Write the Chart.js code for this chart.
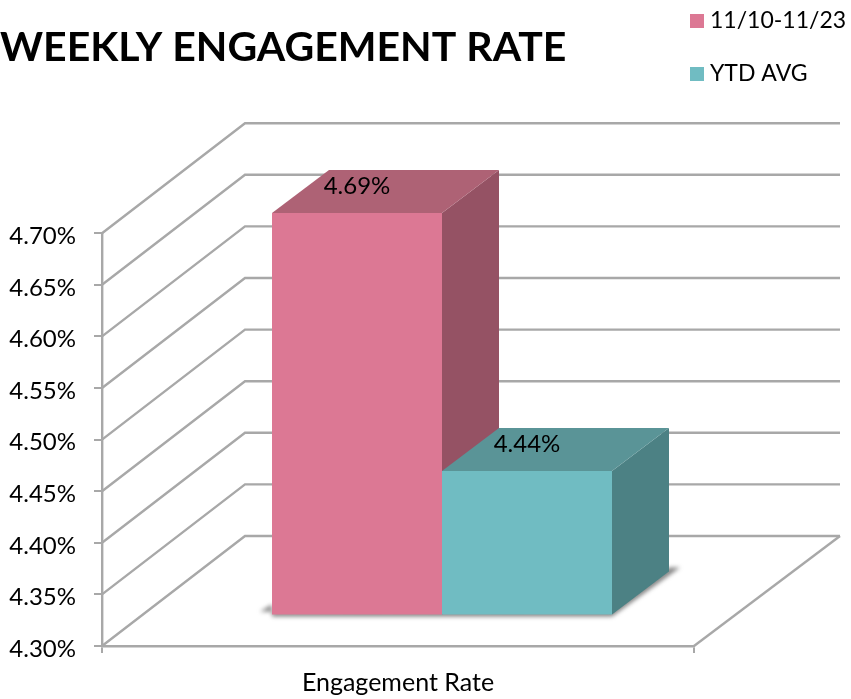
<!DOCTYPE html>
<html>
<head>
<meta charset="utf-8">
<style>html,body{margin:0;padding:0;background:#fff}canvas{display:block}</style>
<script src="https://cdn.jsdelivr.net/npm/chart.js@4"></script>
</head>
<body>
<canvas id="c" width="851" height="699"></canvas>
<script>
const categories = ["Engagement Rate"];
const periodLabel = "11/10-11/23";
const periodValues = [4.69];
const ytdLabel = "YTD AVG";
const ytdValues = [4.44];
const axisMin = 4.30;
const axisMax = 4.70;
const axisStep = 0.05;
const chartTitle = "WEEKLY ENGAGEMENT RATE";

const FONT = "Lato, Carlito, sans-serif";
const GRID = "#a8a8a8";
const FACES = [
  {front:"#dc7894", top:"#ae6275", side:"#955264"},
  {front:"#70bcc2", top:"#5a9497", side:"#4c8184"}
];
const WALL = {dx:143, dy:-110, right:840};
const BAR_SHIFT = {dx:44, dy:-30.5};
const BAR_DEPTH = {dx:57, dy:-43};

function poly(ctx, pts, fill){
  ctx.beginPath();
  pts.forEach((p,i)=> i ? ctx.lineTo(p[0],p[1]) : ctx.moveTo(p[0],p[1]));
  ctx.closePath();
  ctx.fillStyle = fill;
  ctx.fill();
}

const faux3d = {
  id:"faux3d",
  afterLayout(chart){
    const l = chart.legend;
    l.left = 665.5; l.right = 851; l.top = -20.5; l.bottom = 200;
    l.width = l.right - l.left; l.height = l.bottom - l.top;
    l.adjustHitBoxes();
  },
  beforeDatasetsDraw(chart){
    const {ctx, scales:{x,y}} = chart;
    ctx.save();
    ctx.strokeStyle = GRID; ctx.lineWidth = 2.4; ctx.lineJoin = "miter";
    // side wall and back wall gridlines
    y.ticks.forEach(t=>{
      const py = y.getPixelForValue(t.value);
      ctx.beginPath();
      ctx.moveTo(x.left, py);
      ctx.lineTo(x.left+WALL.dx, py+WALL.dy);
      ctx.lineTo(WALL.right, py+WALL.dy);
      ctx.stroke();
    });
    // floor right edge
    ctx.beginPath();
    ctx.moveTo(x.right, y.bottom);
    ctx.lineTo(WALL.right, y.bottom+WALL.dy);
    ctx.stroke();

    const bars = [chart.getDatasetMeta(0).data[0], chart.getDatasetMeta(1).data[0]];
    const rect = b => ({l:b.x-b.width/2+BAR_SHIFT.dx, r:b.x+b.width/2+BAR_SHIFT.dx, t:b.y+BAR_SHIFT.dy, b:b.base+BAR_SHIFT.dy});
    const a = rect(bars[0]), b = rect(bars[1]);
    // floor shadow
    ctx.save();
    ctx.filter = "blur(2px)";
    poly(ctx, [[a.l-12,a.b-3],[a.l,a.b-10],[a.l,a.b+2],[b.r,b.b+2],
      [b.r+BAR_DEPTH.dx+11,b.b+BAR_DEPTH.dy-4],[b.r+BAR_DEPTH.dx,b.b+BAR_DEPTH.dy-4],[b.r,b.b-5]], "rgba(90,90,90,.75)");
    ctx.restore();
    // side and top faces
    [a,b].forEach((r,i)=>{
      const f = FACES[i], dx = BAR_DEPTH.dx, dy = BAR_DEPTH.dy;
      poly(ctx, [[r.r,r.t],[r.r+dx,r.t+dy],[r.r+dx,r.b+dy],[r.r,r.b]], f.side);
      poly(ctx, [[r.l,r.t],[r.l+dx,r.t+dy],[r.r+dx,r.t+dy],[r.r,r.t]], f.top);
    });
    ctx.restore();
    ctx.save();
    ctx.translate(BAR_SHIFT.dx, BAR_SHIFT.dy);
  },
  afterDatasetsDraw(chart){
    const {ctx} = chart;
    ctx.restore();
    ctx.save();
    ctx.font = "24px " + FONT;
    ctx.fillStyle = "#000";
    ctx.textAlign = "center";
    ctx.textBaseline = "middle";
    chart.data.datasets.forEach((ds,i)=>{
      const b = chart.getDatasetMeta(i).data[0];
      ctx.fillText(ds.data[0].toFixed(2)+"%", b.x+BAR_SHIFT.dx, b.y+BAR_SHIFT.dy-27);
    });
    ctx.restore();
  }
};

new Chart(document.getElementById("c"), {
  type:"bar",
  data:{
    labels:categories,
    datasets:[
      {label:periodLabel, data:periodValues, base:axisMin, backgroundColor:FACES[0].front, clip:false},
      {label:ytdLabel, data:ytdValues, base:axisMin, backgroundColor:FACES[1].front, clip:false}
    ]
  },
  plugins:[faux3d],
  options:{
    responsive:false,
    animation:false,
    layout:{padding:{left:0,right:157,top:0,bottom:0}},
    datasets:{bar:{categoryPercentage:0.5743, barPercentage:1}},
    plugins:{
      tooltip:{enabled:false},
      title:{display:true, text:chartTitle, align:"start", color:"#000",
        font:{family:FONT, size:41, weight:"bold", lineHeight:1.2},
        padding:{top:23, bottom:161}},
      legend:{position:"chartArea", align:"start",
        labels:{color:"#000", font:{family:FONT, size:23}, padding:30,
          usePointStyle:true, pointStyle:"rect", boxWidth:3, boxHeight:14}}
    },
    scales:{
      x:{
        afterFit(s){s.height=53;},
        grid:{drawOnChartArea:false, drawTicks:true, tickLength:7, color:GRID, lineWidth:2},
        border:{color:GRID, width:2.4},
        ticks:{color:"#000", font:{family:FONT, size:25}, padding:15}
      },
      y:{
        min:axisMin, max:axisMax,
        afterFit(s){s.width=102;},
        grid:{drawOnChartArea:false, drawTicks:true, tickLength:8, color:GRID, lineWidth:2},
        border:{color:GRID, width:2.4},
        ticks:{color:"#000", font:{family:FONT, size:24}, padding:18, stepSize:axisStep, labelOffset:3,
          callback:v=>v.toFixed(2)+"%"}
      }
    }
  }
});
</script>
</body>
</html>
